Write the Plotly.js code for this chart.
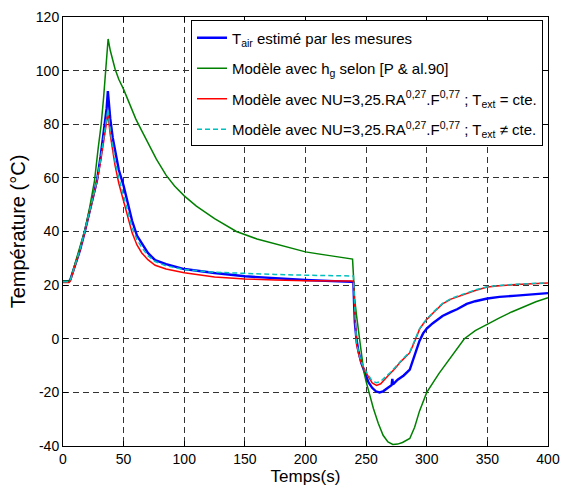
<!DOCTYPE html>
<html>
<head>
<meta charset="utf-8">
<script src="https://cdn.plot.ly/plotly-3.0.1.min.js"></script>
<style>html,body{margin:0;padding:0;background:#fff;}</style>
</head>
<body>
<div id="chart" style="width:563px;height:488px;"></div>
<script>
// Legend labels
const seriesNames = [
  "T<sub>air</sub> estimé par les mesures",
  "Modèle avec h<sub>g</sub> selon [P &amp; al.90]",
  "Modèle avec NU=3,25.RA<sup>0,27</sup>.F<sup>0,77</sup> ; T<sub>ext</sub> = cte.",
  "Modèle avec NU=3,25.RA<sup>0,27</sup>.F<sup>0,77</sup> ; T<sub>ext</sub> ≠ cte."
];

// Measured air temperature (blue)
const tMeas = [0,5,6,10,14,18,22,25,28,31,34,36,37,39,41,43.2,46,50,54,57,61,65,70,76,85,100,125,150,175,200,238,239.5,240,240.7,242,243.5,246,249,252,255,258,261,264,268,271,271.6,272.2,276,281,286,290,294,297,300,305,313,320,325,333,340,350,360,374,387,400];
const TMeas = [21.5,21.5,22,27.5,33,40,48,54,59,68,78,86,92.4,82,75,69,63,57,49,44,38.5,35.5,32,29.3,27.8,26,24.5,23.3,22.5,21.9,21.2,21,14,6,0,-4.3,-9,-13,-16.3,-18.3,-19.6,-20,-19.6,-18.3,-17.3,-15,-17,-15.3,-13.7,-11.5,-6,-0.8,2,3.8,5.8,8.5,10,11,13,14,15,15.6,16.1,16.6,17];

// Model with h_g [P & al.90] (green)
const tPA = [0,5,6,10,14,18,22,26,29,31.5,33.5,35,37.2,39,41,43,46,50,55,60,65,70,77,85,92,100,110,125,143,160,175,200,220,238.8,239.5,240.5,242,244,246,248,250,253,256,260,264,268,272,276,280,286,290,294,300,310,320,331,340,350,360,370,380,390,400];
const TPA = [21.5,21.5,22,28,34,40.5,49,59,71,80,90,100,111.8,107.5,103.5,100.5,96.8,93,87.5,82,77.5,73,67,61,57,53.3,49.5,44.8,40,37.2,35.3,32.4,31,29.7,24,15,9,2,-6,-12,-16,-21.5,-26,-31.5,-36,-38.5,-39.4,-39.3,-38.7,-37.2,-33,-27,-20,-13,-7,0,3,5.5,7.8,10,12,13.8,15.3];

// Model NU, T_ext constant (red)
const tNuC = [0,5,6,10,14,18,22,25,28,31,34,36,37,39,41,43,46,50,54,57,61,65,70,76,85,100,125,150,175,200,238,239.5,240.5,241,242,244,246.2,249,251.7,255,258.6,262,266,269.5,274,278,282,286,290,294,297,300,306,313,320,325,333,340,350,360,374,387,400];
const TNuC = [21,21,21.5,27,33,40,47.5,53,58.5,66,75,80,84,76,70,64.5,58,51.5,44,39.5,35,32,29.5,27.4,26,24.6,23,22.3,21.9,21.6,21.5,21.5,12,5,-1.8,-6,-9.3,-12,-14.2,-16.5,-17.4,-16.8,-14.8,-13.3,-11,-8.8,-7,-5.2,-1,3.5,5.5,7.2,10,13,14.8,15.6,17,18,19.3,19.8,20.2,20.5,20.8];

// Model NU, T_ext variable (cyan dashed)
const tNuV = [0,5,6,10,14,18,22,25,28,31,34,36,37,39,41,43,46,50,54,57,61,65,70,76,85,100,125,150,175,200,238,239.5,240.5,241,242,244,246.2,249,251.7,255,258.6,262,266,269.5,274,278,282,286,290,294,297,300,306,313,320,325,333,340,350,360,374,387,400];
const TNuV = [21.3,21.3,21.8,27.3,33.3,40.3,48,53.5,59,67,77,82,85.5,77.5,71.5,66,60,53.5,46,41.5,37,34,31,28.8,27.2,25.8,24.8,24.3,24,23.7,23.5,23.4,13,6,-1.2,-5.5,-8.8,-11.5,-13.6,-15.8,-16.4,-15.9,-14.2,-12.8,-10.6,-8.5,-6.7,-5,-0.8,3.7,5.7,7.4,10.2,13.2,15,15.8,17.2,18.2,19.4,19.9,20.3,20.6,20.9];

const xTicks = [0,50,100,150,200,250,300,350,400];
const yTicks = [-40,-20,0,20,40,60,80,100,120];

const FONT = "Liberation Sans";

const traces = [
  {x: tMeas, y: TMeas, name: seriesNames[0], legendgroup: "a", line: {color: "#0000ff", width: 2.4}},
  {x: tPA, y: TPA, name: seriesNames[1], legendgroup: "b", line: {color: "#008000", width: 1.5}},
  {x: tNuC, y: TNuC, name: seriesNames[2], legendgroup: "c", line: {color: "#ff0000", width: 1.5}},
  {x: tNuV, y: TNuV, name: seriesNames[3], legendgroup: "d", line: {color: "#00bfbf", width: 1.5, dash: "5px,3px"}}
].map(t => Object.assign({type: "scatter", mode: "lines"}, t));

const axisCommon = {
  showline: true, linecolor: "#000", linewidth: 1, mirror: "ticks",
  ticks: "inside", ticklen: 5, tickcolor: "#000", tickwidth: 1,
  showgrid: true, gridcolor: "#333", gridwidth: 1, griddash: "6px,4px",
  zeroline: false, tickfont: {family: FONT, size: 14, color: "#000"}
};

const layout = {
  width: 563, height: 488,
  margin: {l: 63, r: 15, t: 17, b: 42},
  paper_bgcolor: "#fff", plot_bgcolor: "#fff",
  showlegend: true,
  legend: {
    x: 0.9897, xanchor: "right", y: 0.992, yanchor: "top",
    bgcolor: "#fff", bordercolor: "#000", borderwidth: 1,
    font: {family: FONT, size: 15, color: "#000"},
    tracegroupgap: 8, itemwidth: 30
  },
  xaxis: Object.assign({}, axisCommon, {
    range: [0, 400], tickvals: xTicks, ticktext: xTicks.map(String),
    title: {text: "Temps(s)", font: {family: FONT, size: 17, color: "#000"}, standoff: 4}
  }),
  yaxis: Object.assign({}, axisCommon, {
    range: [-40, 120], tickvals: yTicks, ticktext: yTicks.map(String),
    title: {text: "Température (°C)", font: {family: FONT, size: 20, color: "#000"}, standoff: 4}
  })
};

Plotly.newPlot("chart", traces, layout, {displayModeBar: false, staticPlot: true});
</script>
</body>
</html>
